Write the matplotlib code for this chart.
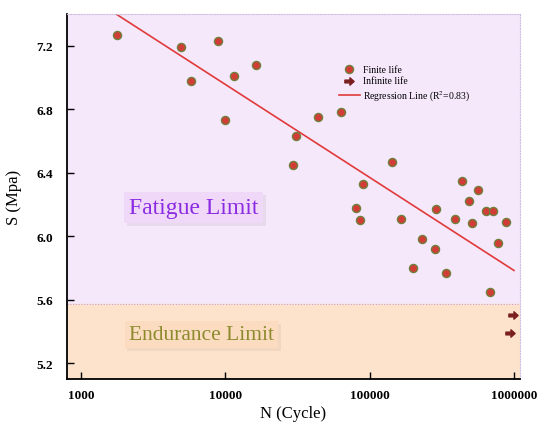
import numpy as np
import matplotlib
matplotlib.use("Agg")
import matplotlib.pyplot as plt
from matplotlib.path import Path
import matplotlib.patheffects as pe

plt.rcParams['font.family'] = ['Liberation Serif', 'DejaVu Serif']
plt.rcParams['mathtext.fontset'] = 'stix'

# finite life points (N cycles, S Mpa)
finite_n = [1780, 4930, 5780, 8890, 9950, 11490, 16300, 30900, 29600, 43600,
            63000, 143600, 90600, 80200, 85400, 166000, 232000, 199000, 290000,
            284000, 340000, 391000, 437000, 486000, 510000, 567000, 641000,
            713000, 878000, 773000, 680000]
finite_s = [7.27, 7.19, 6.98, 7.23, 6.73, 7.01, 7.08, 6.63, 6.45, 6.75,
            6.78, 6.47, 6.33, 6.18, 6.10, 6.11, 5.98, 5.80, 6.17,
            5.92, 5.77, 6.11, 6.35, 6.22, 6.08, 6.29, 6.16,
            6.16, 6.09, 5.96, 5.65]

# run-outs
infinite_n = [980000, 940000]
infinite_s = [5.505, 5.387]

# regression line S = a + b*log10(N)
reg_a = 9.30
reg_b = -0.586
reg_range = [1750, 1000000]

endurance = 5.57
xlim = [800, 1100000]
ylim = [5.10, 7.40]
xticks = [1000, 10000, 100000, 1000000]
yticks = [5.2, 5.6, 6.0, 6.4, 6.8, 7.2]

fig = plt.figure(figsize=(5.38, 4.27), dpi=100)
ax = fig.add_axes([0.1245, 0.110, 0.842, 0.855])

ax.set_xscale('log')
ax.set_xlim(xlim)
ax.set_ylim(ylim)

ax.axhspan(endurance, ylim[1], color='#f6e8fb', zorder=0)
ax.axhspan(ylim[0], endurance, color='#fde3cc', zorder=0)
ax.axhline(endurance, color='#c9a0d8', lw=0.8, ls=(0, (1, 1.5)), zorder=1)

arrow = Path([(-1, -0.3), (0.1, -0.3), (0.1, -0.8), (1, 0), (0.1, 0.8),
              (0.1, 0.3), (-1, 0.3), (-1, -0.3)],
             [Path.MOVETO] + [Path.LINETO] * 6 + [Path.CLOSEPOLY])

xs = np.logspace(np.log10(reg_range[0]), np.log10(reg_range[1]), 50)
ax.plot(xs, reg_a + reg_b * np.log10(xs), color='#e03a3a', lw=1.2, zorder=2,
        label=r'Regression Line (R$^2$=0.83)')
ax.scatter(finite_n, finite_s, s=34, color='#d23c36', edgecolor='#6f7f3c',
           linewidth=1.0, zorder=3, label='Finite life')
ax.scatter(infinite_n, infinite_s, s=44, marker=arrow, color='#7a1f1f',
           zorder=3, label='Infinite life')

h, l = ax.get_legend_handles_labels()
ax.legend([h[1], h[2], h[0]], [l[1], l[2], l[0]], loc='upper left',
          bbox_to_anchor=(0.585, 0.88), frameon=False, fontsize=7,
          handlelength=2.2, labelspacing=0.3, borderpad=0.2, handletextpad=0.3)

ax.text(2150, 6.18, 'Fatigue Limit', fontsize=17, color='#8a2be2',
        ha='left', va='center',
        bbox=dict(boxstyle='square,pad=0.2', fc='#f0d8f8', ec='none',
                  path_effects=[pe.withSimplePatchShadow(offset=(2, -2), shadow_rgbFace='#dccbe0', alpha=0.5)]))
ax.text(2150, 5.38, 'Endurance Limit', fontsize=15.5, color='#8b8b2e',
        ha='left', va='center',
        bbox=dict(boxstyle='square,pad=0.2', fc='#fcdcc0', ec='none',
                  path_effects=[pe.withSimplePatchShadow(offset=(2, -2), shadow_rgbFace='#e6ccb4', alpha=0.5)]))

ax.set_xticks(xticks)
ax.set_xticklabels([str(v) for v in xticks])
ax.set_yticks(yticks)
ax.set_yticklabels(['%.1f' % v for v in yticks])
ax.minorticks_off()
ax.tick_params(direction='in', labelsize=9.5, width=1.0, length=5)
for t in ax.get_xticklabels() + ax.get_yticklabels():
    t.set_fontweight('bold')
ax.tick_params(axis='x', pad=7)
ax.tick_params(axis='y', pad=10)

for s in ['top', 'right']:
    ax.spines[s].set_color('#d0c0e0')
    ax.spines[s].set_linestyle((0, (1, 1.5)))
for s in ['left', 'bottom']:
    ax.spines[s].set_linewidth(1.3)

ax.set_xlabel('N (Cycle)', fontsize=12, labelpad=3)
ax.set_ylabel('S (Mpa)', fontsize=12, labelpad=10)

fig.savefig('out.png', dpi=100)
